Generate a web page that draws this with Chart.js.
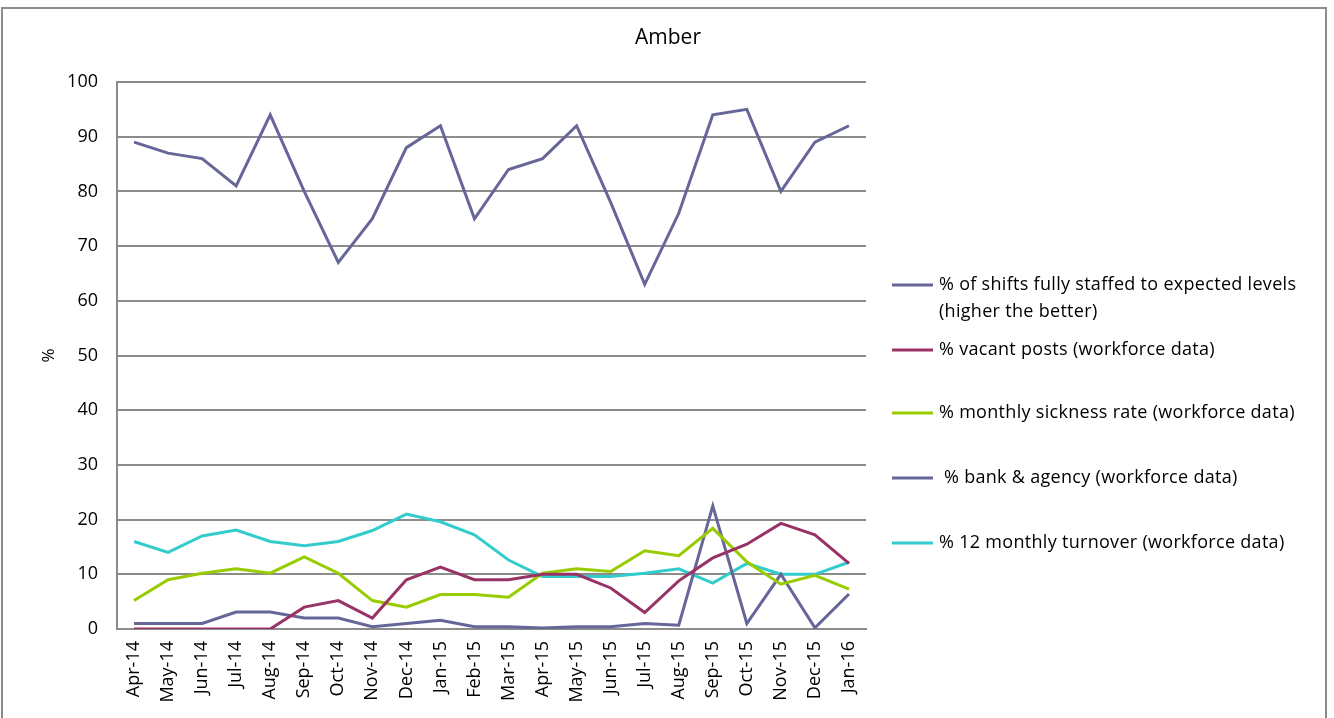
<!DOCTYPE html>
<html lang="en">
<head>
    <meta charset="UTF-8">
    <title>Amber</title>
    <style>
        html, body { margin: 0; padding: 0; background: #fff; overflow: hidden; }
        #wrap { position: relative; width: 1334px; height: 718px; }
        #frame { position: absolute; left: 1px; top: 7px; width: 1326px; height: 760px; border: 2px solid #8c8c8c; box-sizing: border-box; }
        canvas { position: absolute; left: 0; top: 0; }
    </style>
</head>
<body>
    <div id="wrap">
        <div id="frame"></div>
        <canvas id="line_chart" width="1334" height="718"></canvas>
    </div>

    <script src="https://cdn.jsdelivr.net/npm/chart.js"></script>
    <script>
        var months = ['Apr-14','May-14','Jun-14','Jul-14','Aug-14','Sep-14','Oct-14','Nov-14','Dec-14','Jan-15','Feb-15',
                      'Mar-15','Apr-15','May-15','Jun-15','Jul-15','Aug-15','Sep-15','Oct-15','Nov-15','Dec-15','Jan-16'];

        var shifts_staffed = [89, 87, 86, 81, 94, 80, 67, 75, 88, 92, 75, 84, 86, 92, 78, 63, 76, 94, 95, 80, 89, 92];
        var vacant_posts   = [0, 0, 0, 0, 0, 4, 5.2, 2, 9, 11.3, 9, 9, 10, 10, 7.5, 3, 8.8, 13, 15.5, 19.3, 17.2, 12];
        var sickness_rate  = [5.2, 9, 10.2, 11, 10.2, 13.2, 10.2, 5.2, 4, 6.3, 6.3, 5.8, 10.2, 11, 10.5, 14.3, 13.4, 18.4, 12.3, 8.2, 9.8, 7.3];
        var bank_agency    = [1, 1, 1, 3.1, 3.1, 2, 2, 0.4, 1, 1.6, 0.4, 0.4, 0.2, 0.4, 0.4, 1, 0.7, 22.5, 1, 10, 0.2, 6.4];
        var turnover       = [16, 14, 17, 18.1, 16, 15.2, 16, 18, 21, 19.6, 17.2, 12.6, 9.6, 9.6, 9.6, 10.2, 11, 8.4, 12, 10, 10, 12.2];

        var y_ticks = [0, 10, 20, 30, 40, 50, 60, 70, 80, 90, 100];

        var font_name = '"Open Sans", "Liberation Sans", sans-serif';
        var grid_color = '#8c8c8c';

        // title and legend drawn by hand, placed like the original
        var side_legend = {
            id: 'side_legend',
            afterDraw: function (chart) {
                var ctx = chart.ctx;
                var rows = [285, 350, 413, 478, 543];
                ctx.save();
                ctx.fillStyle = '#000';
                ctx.textBaseline = 'middle';

                ctx.font = '21px ' + font_name;
                ctx.textAlign = 'center';
                ctx.fillText('Amber', 668, 38);

                ctx.textAlign = 'left';
                ctx.font = '18px ' + font_name;
                ctx.letterSpacing = '0.3px';
                chart.data.datasets.forEach(function (ds, i) {
                    var y = rows[i];
                    ctx.strokeStyle = ds.borderColor;
                    ctx.lineWidth = 3;
                    ctx.beginPath();
                    ctx.moveTo(892, y);
                    ctx.lineTo(933, y);
                    ctx.stroke();
                    var lines = [].concat(ds.legendText);
                    lines.forEach(function (t, j) {
                        ctx.fillText(t, 939, y + j * 27);
                    });
                });
                ctx.restore();
            }
        };

        function series(label, legendText, data, color) {
            return {
                label: label,
                legendText: legendText,
                data: data,
                borderColor: color,
                backgroundColor: color,
                borderWidth: 3,
                pointRadius: 0,
                tension: 0,
                fill: false
            };
        }

        new Chart(document.getElementById('line_chart'), {
            type: 'line',
            data: {
                labels: months,
                datasets: [
                    series('% of shifts fully staffed to expected levels (higher the better)',
                           ['% of shifts fully staffed to expected levels', '(higher the better)'], shifts_staffed, '#666699'),
                    series('% vacant posts (workforce data)', '% vacant posts (workforce data)', vacant_posts, '#993366'),
                    series('% monthly sickness rate (workforce data)', '% monthly sickness rate (workforce data)', sickness_rate, '#99cc00'),
                    series(' % bank & agency (workforce data)', ' % bank & agency (workforce data)', bank_agency, '#666699'),
                    series('% 12 monthly turnover (workforce data)', '% 12 monthly turnover (workforce data)', turnover, '#33cccc')
                ]
            },
            options: {
                responsive: false,
                animation: false,
                layout: { padding: { left: 39, right: 468, top: 82, bottom: 0 } },
                plugins: {
                    legend: { display: false },
                    tooltip: { enabled: false },
                    title: { display: false }
                },
                scales: {
                    x: {
                        offset: true,
                        grid: { display: false, drawTicks: false },
                        border: { display: true, color: grid_color, width: 2 },
                        ticks: {
                            color: '#000',
                            font: { family: font_name, size: 18 },
                            minRotation: 90,
                            maxRotation: 90,
                            autoSkip: false,
                            padding: 12
                        },
                        afterFit: function (scale) { scale.height = 89; }
                    },
                    y: {
                        min: 0,
                        max: 100,
                        afterBuildTicks: function (scale) {
                            scale.ticks = y_ticks.map(function (v) { return { value: v }; });
                        },
                        grid: { color: grid_color, lineWidth: 2, drawTicks: false },
                        border: { display: true, color: grid_color, width: 2 },
                        ticks: {
                            color: '#000',
                            font: { family: font_name, size: 18 },
                            padding: 19
                        },
                        title: {
                            display: true,
                            text: '%',
                            color: '#000',
                            font: { family: font_name, size: 17 },
                            padding: 0
                        },
                        afterFit: function (scale) { scale.width = 78; }
                    }
                }
            },
            plugins: [side_legend]
        });
    </script>
</body>
</html>
